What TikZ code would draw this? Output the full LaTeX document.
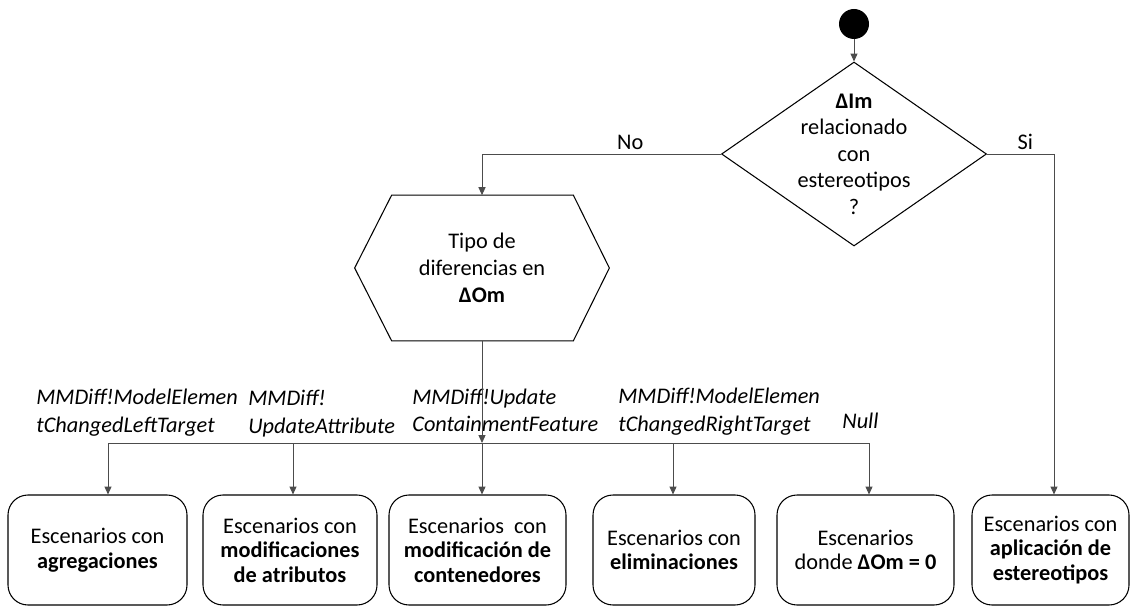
\documentclass[tikz,border=0pt]{standalone}
\usepackage{fontspec}
\setmainfont{Carlito}
\usetikzlibrary{positioning,arrows.meta,shapes.geometric}

\begin{document}
\begin{tikzpicture}[
        font=\fontsize{12.7}{15.3}\selectfont,
        decision/.style={draw, diamond, minimum width=5.3cm, minimum height=3.68cm, inner sep=0pt, line width=0.6pt},
        scen/.style={draw, rectangle, rounded corners=0.4cm, minimum height=2.2cm, align=center, line width=0.6pt, font=\fontsize{12.7}{13.9}\selectfont},
        flow/.style={-{Triangle[length=4.5pt,width=4pt]}, draw=black!70, line width=0.5pt},
        cond/.style={inner sep=2pt},
        lab/.style={font=\fontsize{12.7}{15.9}\selectfont\itshape, align=left, inner sep=0pt, anchor=south west}
    ]
        \useasboundingbox (0,0) rectangle (22.64,-12.16);

        % Start point and first decision
        \node[circle, fill=black, minimum size=0.6cm, inner sep=0pt] (start) at (17.08,-0.48) {};
        \node[decision] (dia) at (17.08,-3.08) {};
        \node[align=center, inner sep=0pt, font=\fontsize{12.7}{15.1}\selectfont] (dia-txt) at (dia) {\textbf{ΔIm}\\relacionado\\con\\estereotipos\\?};

        % Hexagon (type of differences)
        \node[minimum width=5.08cm, minimum height=2.9cm, align=center] (hex) at (9.64,-5.36) {Tipo de\\diferencias en\\\textbf{ΔOm}};
        \draw[line width=0.6pt] (hex.west) -- ([xshift=0.74cm]hex.north west) -- ([xshift=-0.72cm]hex.north east)
            -- (hex.east) -- ([xshift=-0.72cm]hex.south east) -- ([xshift=0.74cm]hex.south west) -- cycle;

        % Scenario boxes
        \node[scen, minimum width=3.58cm] (agr) at (1.95,-11.0) {Escenarios con\\\textbf{agregaciones}};
        \node[scen, minimum width=3.48cm] (atr) at (5.80,-11.0) {Escenarios con\\\textbf{modificaciones}\\\textbf{de atributos}};
        \node[scen, minimum width=3.54cm] (cont) at (9.55,-11.0) {Escenarios\ \ con\\\textbf{modificación de}\\\textbf{contenedores}};
        \node[scen, minimum width=3.24cm] (elim) at (13.48,-11.0) {Escenarios con\\\textbf{eliminaciones}};
        \node[scen, minimum width=3.54cm] (cero) at (17.31,-11.0) {Escenarios\\donde \textbf{ΔOm = 0}};
        \node[scen, minimum width=3.14cm] (est) at (21.01,-11.0) {Escenarios con\\\textbf{aplicación de}\\\textbf{estereotipos}};

        % Branch labels along the bus
        \node[lab] (l-left) at (0.72,-8.74) {MMDiff!ModelElemen\\tChangedLeftTarget};
        \node[lab] (l-attr) at (4.96,-8.75) {MMDiff!\\UpdateAttribute};
        \node[lab] (l-cont) at (8.24,-8.65) {MMDiff!Update\\ContainmentFeature};
        \node[lab] (l-right) at (12.36,-8.72) {MMDiff!ModelElemen\\tChangedRightTarget};
        \node[lab] (l-null) at (16.84,-8.58) {Null};

        % Bus drop points
        \coordinate (d1) at (2.16,-8.86);
        \coordinate (d2) at (5.86,-8.86);
        \coordinate (d4) at (13.46,-8.86);
        \coordinate (d5) at (17.38,-8.86);
        \coordinate (si) at (21.08,-3.08);

        % Connectors
        \draw[flow] (start) -- (dia.north);
        \draw[flow] (dia.west) -| node[cond, above, pos=0.19]{No} (hex.north);
        \draw[flow, -] (dia.east) -- node[cond, above, pos=0.57]{Si} (si);
        \draw[flow] (si) -- (si |- est.north);
        \draw[flow] (hex.south) -- (hex.south |- d1);
        \draw[flow, -] (d1) -- (d5);
        \draw[flow] (d1) -- (d1 |- agr.north);
        \draw[flow] (d2) -- (d2 |- atr.north);
        \draw[flow] (hex.south |- d1) -- (cont.north -| hex.south);
        \draw[flow] (d4) -- (d4 |- elim.north);
        \draw[flow] (d5) -- (d5 |- cero.north);
    \end{tikzpicture}
\end{document}
